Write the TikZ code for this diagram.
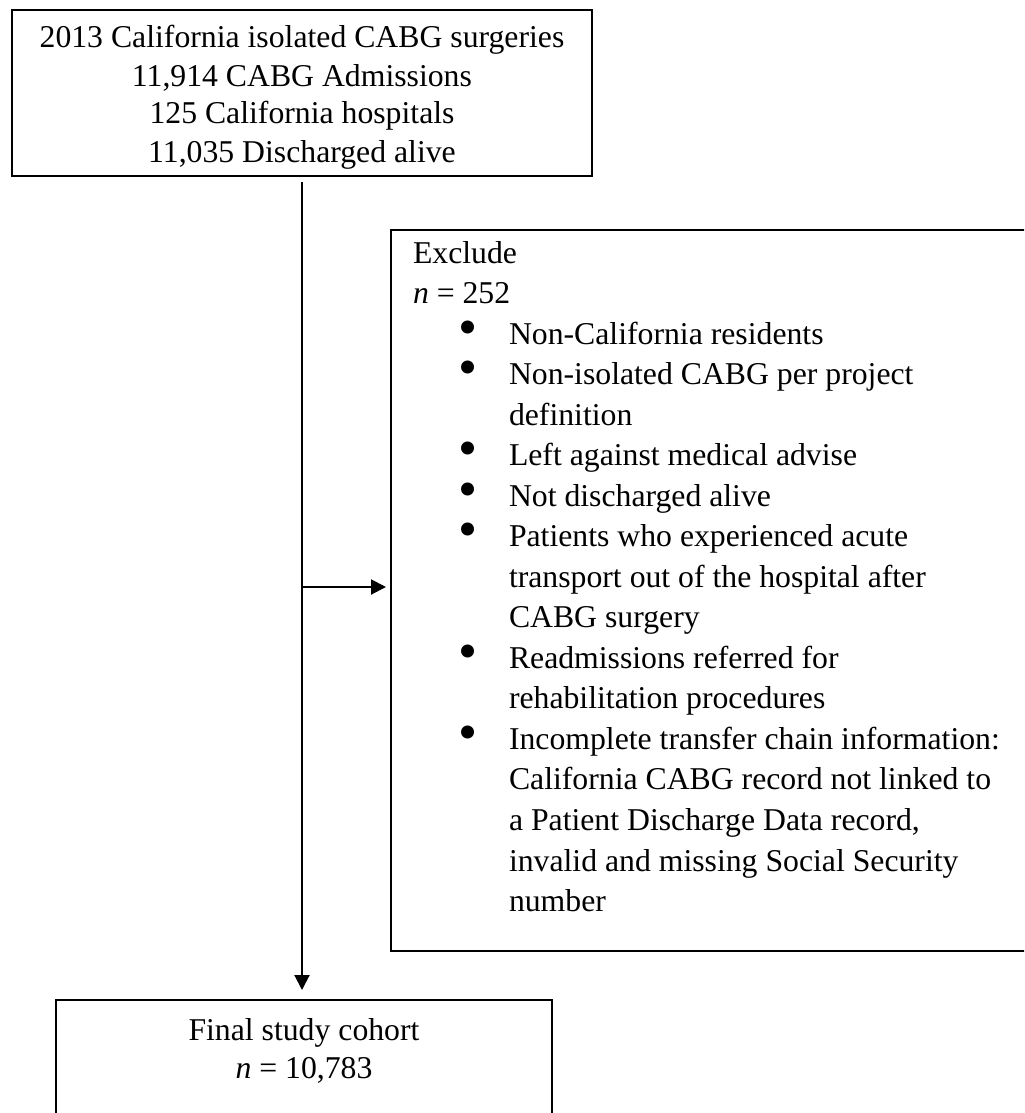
\documentclass[tikz,border=0pt]{standalone}
\usepackage{fontspec}
\setmainfont{Liberation Serif}
\usetikzlibrary{arrows.meta}
\newdimen\pxu \pxu=0.75pt
\newcommand\bigbul{\raisebox{-0.75pt}{\fontsize{40.8}{40.8}\selectfont\textbullet}}
\newcommand\bitem[1]{\par\noindent\hangindent=96\pxu\hangafter=1\hbox to 96\pxu{\hskip 45.5\pxu\bigbul\hfil}#1}
\tikzset{
  box/.style={draw, line width=1.5pt, inner sep=0pt},
  conn/.style={line width=1.5pt, -{Triangle[length=11.25pt, width=11.25pt]}}
}
\begin{document}
\begin{tikzpicture}[x=0.75pt, y=-0.75pt]
\path[use as bounding box] (0,0) rectangle (1024,1113);
\clip (0,0) rectangle (1024,1113);

\node[box, anchor=north west] (top) at (11,9) {\parbox[c][166\pxu][t]{580\pxu}{\fontsize{23.8}{28.5}\selectfont\centering
\rule{0pt}{38\pxu}2013 California isolated CABG surgeries\\
11,914 CABG Admissions\\
125 California hospitals\\
11,035 Discharged alive\par}};

\node[box, anchor=north west] (excl) at (390,229) {\parbox[c][721\pxu][t]{650\pxu}{\fontsize{23.8}{30.4}\selectfont\raggedright\leftskip=22\pxu
\rule{0pt}{33\pxu}Exclude\\
\textit{n} = 252
\bitem{Non-California residents}
\bitem{Non-isolated CABG per project\newline definition}
\bitem{Left against medical advise}
\bitem{Not discharged alive}
\bitem{Patients who experienced acute\newline transport out of the hospital after\newline CABG surgery}
\bitem{Readmissions referred for\newline rehabilitation procedures}
\bitem{Incomplete transfer chain information:\newline California CABG record not linked to\newline a Patient Discharge Data record,\newline invalid and missing Social Security\newline number}\par}};

\node[box, anchor=north west] (final) at (55,999) {\parbox[c][160\pxu][t]{496\pxu}{\fontsize{23.8}{28.5}\selectfont\centering
\rule{0pt}{40\pxu}Final study cohort\\
\textit{n} = 10,783\par}};

\coordinate (j) at (301,587);
\draw[conn, shorten <=3.75pt, shorten >=6.75pt] (top.south) -- (top.south |- final.north);
\draw[conn, shorten >=3pt] (j) -- (j -| excl.west);
\end{tikzpicture}
\end{document}
